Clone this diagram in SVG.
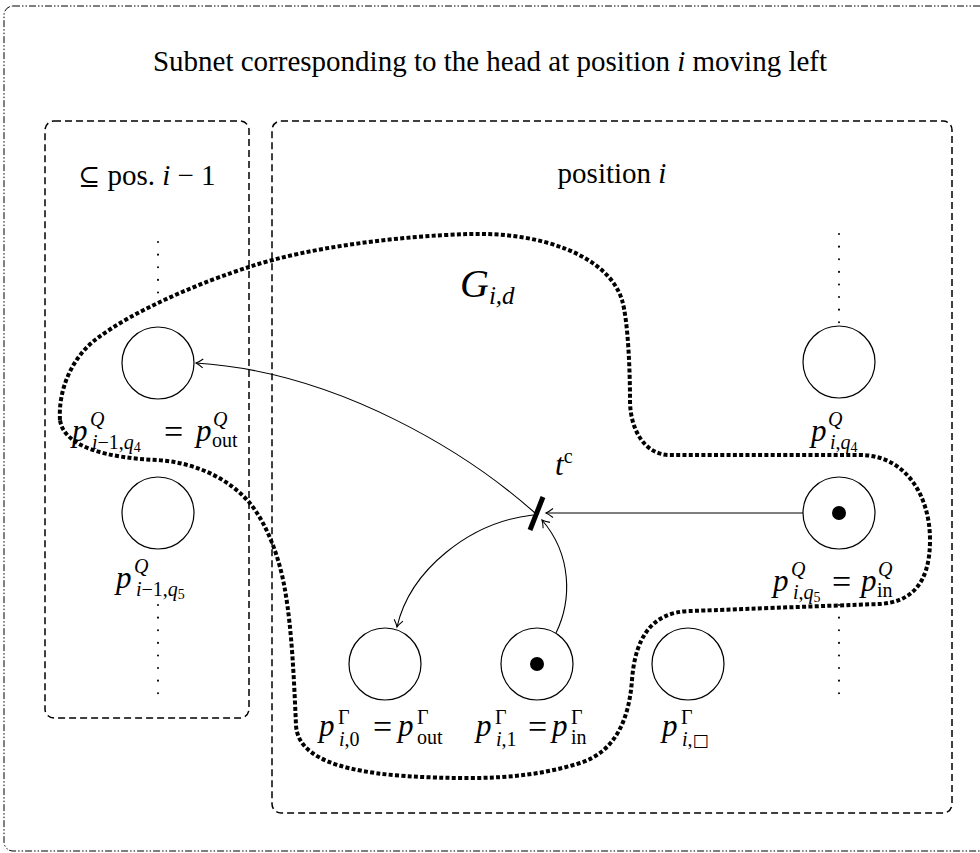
<svg xmlns="http://www.w3.org/2000/svg" width="980" height="853" viewBox="0 0 980 853" font-family="'Liberation Serif', 'Times New Roman', serif">
<style>
text{font-family:'Liberation Serif','Times New Roman',serif;fill:#000}
.it{font-style:italic}
.box{fill:none;stroke:#000;stroke-width:1.5;stroke-dasharray:7 4}
.place{fill:#fff;stroke:#000;stroke-width:1.2}
.arc{fill:none;stroke:#000;stroke-width:1.1}
.dots{fill:none;stroke:#000;stroke-width:2;stroke-dasharray:0.1 12.5;stroke-linecap:round}
.t26{font-size:29px}
.p{font-size:31px;font-style:italic}
.s{font-size:20px}
.ss{font-size:14px}
.eq{font-size:34px}
</style>
<defs>
<marker id="arr" markerWidth="12" markerHeight="12" refX="0" refY="0" viewBox="-8 -6 10 12" orient="auto" markerUnits="userSpaceOnUse">
<path d="M-7,-4.5 Q-2.5,-1 0,0 Q-2.5,1 -7,4.5" fill="none" stroke="#000" stroke-width="1.1"/>
</marker>
</defs>

<g id="frame">
<rect x="4" y="6" width="1000" height="845" rx="9" fill="none" stroke="#000" stroke-width="1" stroke-dasharray="7 2 1.5 2 1.5 2"/>
<text class="t26" x="490" y="71" text-anchor="middle">Subnet corresponding to the head at position <tspan class="it">i</tspan> moving left</text>
</g>

<g id="box-prev">
<rect class="box" x="45" y="121" width="204" height="597" rx="9"/>
<text class="t26" x="147" y="185" text-anchor="middle"><tspan font-family="'DejaVu Serif', 'DejaVu Sans', serif" font-size="26">⊆</tspan> pos. <tspan class="it">i</tspan> − 1</text>
<path class="dots" d="M158,242 V296"/>
<path class="dots" d="M158,605 V697"/>
</g>

<g id="box-cur">
<rect class="box" x="272" y="121" width="680" height="692" rx="9"/>
<text class="t26" x="612" y="183" text-anchor="middle">position <tspan class="it">i</tspan></text>
<path class="dots" d="M839,234 V324"/>
<path class="dots" d="M839,605 V697"/>
</g>

<g id="G">
<path d="M60,420 C58,390 72,358 95,340 C135,309 205,281 249,267 C309,247 400,236 470,234 C540,232 608,255 622,300 C628,320 630,370 630,400 C630,430 645,455 670,455 L860,455 C905,455 930,495 930,540 C930,585 910,602 880,604 C820,606 720,610 690,611 C650,612 635,640 632,680 C629,720 615,752 580,763 C545,774 510,778 470,778 C380,778 298,770 296,725 C294,680 292,630 285,590 C280,560 268,525 249,502 C225,475 190,462 157,460 C110,458 64,448 60,420 Z" fill="none" stroke="#000" stroke-width="4" stroke-dasharray="4 2.3"/>
<text x="460" y="297" class="it" font-size="40">G<tspan font-size="25" dy="7">i,d</tspan></text>
</g>

<g id="p-im1-q4">
<circle class="place" cx="158" cy="363" r="36"/>
<text class="p" x="72" y="441">p</text>
<text class="s it" x="90" y="426">Q</text>
<text class="s it" x="92" y="449">i<tspan font-style="normal">−1,</tspan>q<tspan class="ss" font-style="normal" dy="3">4</tspan></text>
<text class="eq" x="164" y="443">=</text>
<text class="p" x="196" y="441">p</text>
<text class="s it" x="213" y="426">Q</text>
<text class="s" x="212" y="447">out</text>
</g>

<g id="p-im1-q5">
<circle class="place" cx="158" cy="513" r="36"/>
<text class="p" x="116" y="588">p</text>
<text class="s it" x="134" y="573">Q</text>
<text class="s it" x="136" y="596">i<tspan font-style="normal">−1,</tspan>q<tspan class="ss" font-style="normal" dy="3">5</tspan></text>
</g>

<g id="p-i-q4">
<circle class="place" cx="839" cy="362" r="36"/>
<text class="p" x="811" y="441">p</text>
<text class="s it" x="828" y="426">Q</text>
<text class="s it" x="830" y="449">i<tspan font-style="normal">,</tspan>q<tspan class="ss" font-style="normal" dy="3">4</tspan></text>
</g>

<g id="p-i-q5">
<circle class="place" cx="839" cy="513" r="36"/>
<circle cx="839" cy="513" r="7" fill="#000"/>
<text class="p" x="773" y="591">p</text>
<text class="s it" x="791" y="576">Q</text>
<text class="s it" x="793" y="599">i<tspan font-style="normal">,</tspan>q<tspan class="ss" font-style="normal" dy="3">5</tspan></text>
<text class="eq" x="832" y="593">=</text>
<text class="p" x="861" y="591">p</text>
<text class="s it" x="878" y="576">Q</text>
<text class="s" x="877" y="597">in</text>
</g>

<g id="t-c">
<line x1="543" y1="497" x2="530" y2="530" stroke="#000" stroke-width="5"/>
<text class="it" font-size="31" x="555" y="475">t<tspan font-style="normal" font-size="20" dy="-12">c</tspan></text>
</g>

<g id="p-i-0">
<circle class="place" cx="385" cy="664" r="36"/>
<text class="p" x="319" y="736">p</text>
<text class="s" x="338" y="724">Γ</text>
<text class="s it" x="339" y="746">i<tspan font-style="normal">,0</tspan></text>
<text class="eq" x="373" y="738">=</text>
<text class="p" x="398" y="736">p</text>
<text class="s" x="417" y="724">Γ</text>
<text class="s" x="417" y="744">out</text>
</g>

<g id="p-i-1">
<circle class="place" cx="537" cy="664" r="36"/>
<circle cx="537" cy="664" r="7" fill="#000"/>
<text class="p" x="476" y="736">p</text>
<text class="s" x="495" y="724">Γ</text>
<text class="s it" x="496" y="746">i<tspan font-style="normal">,1</tspan></text>
<text class="eq" x="528" y="738">=</text>
<text class="p" x="552" y="736">p</text>
<text class="s" x="571" y="724">Γ</text>
<text class="s" x="571" y="744">in</text>
</g>

<g id="p-i-blank">
<circle class="place" cx="688" cy="664" r="36"/>
<text class="p" x="662" y="736">p</text>
<text class="s" x="681" y="724">Γ</text>
<text class="s it" x="682" y="746">i<tspan font-style="normal">,</tspan><tspan font-style="normal" font-family="'DejaVu Sans', sans-serif" font-size="17">□</tspan></text>
</g>

<g id="connectors">
<path class="arc" d="M803,513 L546,513" marker-end="url(#arr)"/>
<path class="arc" d="M556,633 C572,600 572,555 542,520" marker-end="url(#arr)"/>
<path class="arc" d="M535,513 C470,455 340,372 196,363" marker-end="url(#arr)"/>
<path class="arc" d="M533,515 C470,522 410,570 397,627" marker-end="url(#arr)"/>
</g>
</svg>
